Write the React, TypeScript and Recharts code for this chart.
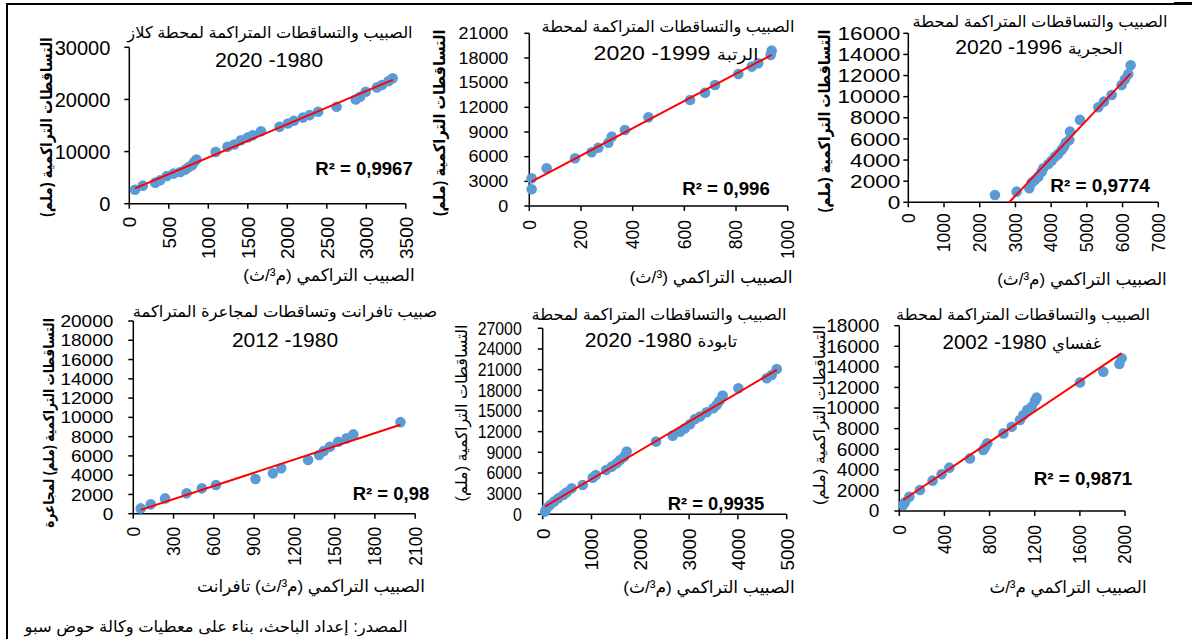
import { useLayoutEffect, useRef, useState } from 'react';
import type { ReactNode } from 'react';
import { ScatterChart, Scatter, XAxis, YAxis } from 'recharts';

// Cumulative discharge (m3/s) against cumulative rainfall (mm), one pair per station

// Kalaz 1980-2020
const kalazFlow = [72, 170, 327, 391, 476, 561, 646, 710, 753, 795, 816, 850, 1093, 1242, 1327, 1412, 1497, 1561, 1667, 1901, 2007, 2084, 2198, 2283, 2390, 2624, 2866, 2921, 2993, 3134, 3198, 3283, 3334];
const kalazRain = [2690, 3460, 4040, 4490, 5320, 5770, 6090, 6540, 7050, 7370, 7880, 8460, 9940, 10900, 11350, 12180, 12690, 13140, 13910, 14740, 15380, 15900, 16540, 16990, 17630, 18590, 20000, 20510, 21470, 22310, 22760, 23520, 24040];
const kalazXTicks = [0, 500, 1000, 1500, 2000, 2500, 3000, 3500];
const kalazYTicks = [0, 10000, 20000, 30000];

// Rutba 1999-2020
const rutbaFlow = [9, 9, 67, 177, 241, 267, 306, 319, 370, 461, 622, 680, 719, 809, 861, 886, 934, 938];
const rutbaRain = [2030, 3360, 4580, 5800, 6530, 7090, 7700, 8430, 9240, 10780, 12890, 13780, 14720, 16050, 16950, 17350, 18370, 18890];
const rutbaXTicks = [0, 200, 400, 600, 800, 1000];
const rutbaYTicks = [0, 3000, 6000, 9000, 12000, 15000, 18000, 21000];

// Hajria 1996-2020
const hajriaFlow = [2427, 3033, 3388, 3453, 3547, 3640, 3733, 3780, 3920, 4013, 4107, 4200, 4293, 4358, 4415, 4508, 4527, 4807, 5320, 5478, 5693, 5973, 6067, 6160, 6225];
const hajriaRain = [690, 1010, 1330, 1860, 2110, 2430, 2900, 3220, 3630, 3940, 4320, 4580, 4950, 5270, 5650, 5900, 6690, 7800, 9000, 9530, 10160, 11110, 11650, 12150, 12970];
const hajriaXTicks = [0, 1000, 2000, 3000, 4000, 5000, 6000, 7000];
const hajriaYTicks = [0, 2000, 4000, 6000, 8000, 10000, 12000, 14000, 16000];

// Tafrant discharge vs Mjaara rainfall 1980-2012
const tafrantFlow = [55, 130, 237, 397, 511, 616, 910, 1040, 1102, 1302, 1384, 1419, 1464, 1526, 1589, 1639, 1990];
const mjaaraRain = [550, 970, 1590, 2110, 2630, 2980, 3600, 4190, 4710, 5570, 6090, 6500, 6950, 7470, 7820, 8230, 9500];
const tafrantXTicks = [0, 300, 600, 900, 1200, 1500, 1800, 2100];
const tafrantYTicks = [0, 2000, 4000, 6000, 8000, 10000, 12000, 14000, 16000, 18000, 20000];

// Tabouda 1980-2020
const taboudaFlow = [48, 82, 150, 232, 321, 423, 492, 594, 820, 1025, 1090, 1298, 1414, 1516, 1585, 1667, 1721, 2322, 2664, 2814, 2916, 3019, 3121, 3224, 3360, 3497, 3565, 3620, 3688, 4009, 4590, 4692, 4795];
const taboudaRain = [390, 870, 1350, 1840, 2320, 2810, 3190, 3770, 4260, 5320, 5710, 6440, 6920, 7400, 7890, 8370, 9100, 10550, 11420, 12000, 12480, 13070, 13840, 14180, 14810, 15390, 15870, 16450, 17230, 18290, 19740, 20230, 21100];
const taboudaXTicks = [0, 1000, 2000, 3000, 4000, 5000];
const taboudaYTicks = [0, 3000, 6000, 9000, 12000, 15000, 18000, 21000, 24000, 27000];

// Ghafsai 1980-2002
const ghafsaiFlow = [35, 50, 89, 183, 295, 375, 443, 626, 744, 760, 780, 922, 996, 1069, 1099, 1134, 1173, 1202, 1217, 1601, 1808, 1950, 1970];
const ghafsaiRain = [580, 840, 1390, 2040, 2950, 3560, 4210, 5110, 5920, 6200, 6570, 7540, 8190, 8840, 9320, 9810, 10130, 10680, 11010, 12490, 13530, 14280, 14830];
const ghafsaiXTicks = [0, 400, 800, 1200, 1600, 2000];
const ghafsaiYTicks = [0, 2000, 4000, 6000, 8000, 10000, 12000, 14000, 16000, 18000];

const PAGE_W = 1192;
const PAGE_H = 639;
const NUM_FONT = '"Liberation Sans", Arial, sans-serif';
const TXT_FONT = '"Liberation Sans", "DejaVu Sans", sans-serif';
const axisStroke = { stroke: '#000', strokeWidth: 1.5 };

type Pt = { x: number; y: number };
type Frame = { x0: number; x1: number; y0: number; y1: number };
type TickFmt = { size: number; sx: number; gap: number };

// least-squares line over the points, clipped at y = 0 like the spreadsheet trendline
function trendOf(pts: Pt[]): Pt[] {
  const n = pts.length;
  const mx = pts.reduce((s, p) => s + p.x, 0) / n;
  const my = pts.reduce((s, p) => s + p.y, 0) / n;
  let sxy = 0;
  let sxx = 0;
  pts.forEach((p) => {
    sxy += (p.x - mx) * (p.y - my);
    sxx += (p.x - mx) * (p.x - mx);
  });
  const b = sxy / sxx;
  const a = my - b * mx;
  let xa = Math.min(...pts.map((p) => p.x));
  const xb = Math.max(...pts.map((p) => p.x));
  if (a + b * xa < 0) xa = -a / b;
  return [
    { x: xa, y: a + b * xa },
    { x: xb, y: a + b * xb },
  ];
}

const yTickOf = (f: TickFmt) => (props: any) => (
  <g transform={`translate(${props.x - (f.gap - 5)},${props.y}) scale(${f.sx},1)`}>
    <text textAnchor="end" dy="0.36em" fontSize={f.size} fontFamily={NUM_FONT} fill="#000">
      {props.payload.value}
    </text>
  </g>
);

const xTickOf = (f: TickFmt) => (props: any) => (
  <g transform={`translate(${props.x},${props.y + (f.gap - 5)}) rotate(-90) scale(${f.sx},1)`}>
    <text textAnchor="end" dy="0.36em" fontSize={f.size} fontFamily={NUM_FONT} fill="#000">
      {props.payload.value}
    </text>
  </g>
);

const dot = (p: any) => <circle cx={p.cx} cy={p.cy} r={5.3} fill="#5B9BD5" />;
const noDot = () => <g />;

interface PlotProps {
  flow: number[];
  rain: number[];
  xTicks: number[];
  yTicks: number[];
  frame: Frame;
  xFmt: TickFmt;
  yFmt: TickFmt;
}

// axes need a non-zero band, so 1px is taken from the margins for each
function StationPlot({ flow, rain, xTicks, yTicks, frame, xFmt, yFmt }: PlotProps) {
  const pts = flow.map((q, i) => ({ x: q, y: rain[i] }));
  const trend = trendOf(pts);
  return (
    <div style={{ position: 'absolute', left: 0, top: 0 }}>
      <ScatterChart
        width={PAGE_W}
        height={PAGE_H}
        margin={{ left: frame.x0 - 1, right: PAGE_W - frame.x1, top: frame.y0, bottom: PAGE_H - frame.y1 - 1 }}
      >
        <XAxis
          type="number"
          dataKey="x"
          domain={[0, xTicks[xTicks.length - 1]]}
          ticks={xTicks}
          interval={0}
          height={1}
          tickSize={5}
          tickMargin={0}
          axisLine={axisStroke}
          tickLine={axisStroke}
          tick={xTickOf(xFmt)}
        />
        <YAxis
          type="number"
          dataKey="y"
          domain={[0, yTicks[yTicks.length - 1]]}
          ticks={yTicks}
          interval={0}
          width={1}
          tickSize={5}
          tickMargin={0}
          axisLine={axisStroke}
          tickLine={axisStroke}
          tick={yTickOf(yFmt)}
        />
        <Scatter data={pts} shape={dot} isAnimationActive={false} />
        <Scatter
          data={trend}
          fill="#FF0000"
          line={{ stroke: '#FF0000', strokeWidth: 2 }}
          shape={noDot}
          isAnimationActive={false}
        />
      </ScatterChart>
    </div>
  );
}

interface TextProps {
  cx: number;
  cy: number;
  w: number;
  size: number;
  bold?: boolean;
  vertical?: boolean;
  ltr?: boolean;
  children: ReactNode;
}

// text centred on (cx, cy), squeezed or stretched horizontally to span w pixels
function FitText({ cx, cy, w, size, bold, vertical, ltr, children }: TextProps) {
  const ref = useRef<HTMLDivElement>(null);
  const [k, setK] = useState(1);
  useLayoutEffect(() => {
    if (ref.current && ref.current.offsetWidth > 0) setK(w / ref.current.offsetWidth);
  }, [w]);
  return (
    <div
      ref={ref}
      dir={ltr ? 'ltr' : 'rtl'}
      style={{
        position: 'absolute',
        left: cx,
        top: cy,
        width: 'max-content',
        transform: `translate(-50%, -50%)${vertical ? ' rotate(-90deg)' : ''} scaleX(${k})`,
        fontFamily: TXT_FONT,
        fontSize: size,
        fontWeight: bold ? 700 : 400,
        lineHeight: 1.1,
        whiteSpace: 'nowrap',
        color: '#000',
      }}
    >
      {children}
    </div>
  );
}

const small = { fontSize: 16 };

export default function App() {
  return (
    <div
      style={{
        position: 'fixed',
        left: 0,
        top: 0,
        width: PAGE_W,
        height: PAGE_H,
        background: '#fff',
        overflow: 'hidden',
      }}
    >
      <div style={{ position: 'absolute', left: 6, top: 3, width: 1168, height: 640, borderLeft: '2px solid #000', borderTop: '2px solid #000' }} />
      <div style={{ position: 'absolute', left: 1174, top: 2, width: 18, height: 3, background: '#000' }} />

      <StationPlot
        flow={kalazFlow}
        rain={kalazRain}
        xTicks={kalazXTicks}
        yTicks={kalazYTicks}
        frame={{ x0: 129.3, x1: 405.8, y0: 47.3, y1: 203.7 }}
        xFmt={{ size: 19, sx: 1, gap: 13 }}
        yFmt={{ size: 20, sx: 1, gap: 19 }}
      />
      <StationPlot
        flow={rutbaFlow}
        rain={rutbaRain}
        xTicks={rutbaXTicks}
        yTicks={rutbaYTicks}
        frame={{ x0: 529.3, x1: 787.7, y0: 33.3, y1: 206 }}
        xFmt={{ size: 17.5, sx: 1, gap: 14 }}
        yFmt={{ size: 16, sx: 1.12, gap: 21 }}
      />
      <StationPlot
        flow={hajriaFlow}
        rain={hajriaRain}
        xTicks={hajriaXTicks}
        yTicks={hajriaYTicks}
        frame={{ x0: 908.3, x1: 1158.3, y0: 33.3, y1: 202.3 }}
        xFmt={{ size: 17.5, sx: 1, gap: 11 }}
        yFmt={{ size: 18.5, sx: 1.22, gap: 8 }}
      />
      <StationPlot
        flow={tafrantFlow}
        rain={mjaaraRain}
        xTicks={tafrantXTicks}
        yTicks={tafrantYTicks}
        frame={{ x0: 133.3, x1: 415.2, y0: 321, y1: 513.7 }}
        xFmt={{ size: 17.5, sx: 1, gap: 13 }}
        yFmt={{ size: 17, sx: 1.12, gap: 20 }}
      />
      <StationPlot
        flow={taboudaFlow}
        rain={taboudaRain}
        xTicks={taboudaXTicks}
        yTicks={taboudaYTicks}
        frame={{ x0: 542.7, x1: 786.7, y0: 328.3, y1: 514.3 }}
        xFmt={{ size: 19, sx: 1, gap: 14 }}
        yFmt={{ size: 18, sx: 0.88, gap: 21 }}
      />
      <StationPlot
        flow={ghafsaiFlow}
        rain={ghafsaiRain}
        xTicks={ghafsaiXTicks}
        yTicks={ghafsaiYTicks}
        frame={{ x0: 899.3, x1: 1125, y0: 325.7, y1: 511 }}
        xFmt={{ size: 17.5, sx: 1, gap: 14 }}
        yFmt={{ size: 17.5, sx: 1.09, gap: 20 }}
      />

      {/* Kalaz */}
      <FitText cx={270} cy={33} w={285} size={16}>الصبيب والتساقطات المتراكمة لمحطة كلاز</FitText>
      <FitText cx={269} cy={60} w={108} size={20}>1980- 2020</FitText>
      <FitText cx={47} cy={127} w={180} size={16} bold vertical>التساقطات التراكمية (ملم)</FitText>
      <FitText cx={329} cy={276} w={172} size={17}>الصبيب التراكمي (م³/ث)</FitText>
      <FitText cx={364} cy={170} w={98} size={18} bold ltr>R² = 0,9967</FitText>

      {/* Rutba */}
      <FitText cx={668} cy={27} w={253} size={16}>الصبيب والتساقطات المتراكمة لمحطة</FitText>
      <FitText cx={676} cy={53} w={165} size={20}><span style={small}>الرتبة</span> 1999- 2020</FitText>
      <FitText cx={440} cy={123} w={187} size={16} bold vertical>التساقطات التراكمية (ملم)</FitText>
      <FitText cx={711} cy={278} w={163} size={17}>الصبيب التراكمي (³/ث)</FitText>
      <FitText cx={726} cy={190} w={88} size={18} bold ltr>R² = 0,996</FitText>

      {/* Hajria */}
      <FitText cx={1040} cy={22} w={255} size={16}>الصبيب والتساقطات المتراكمة لمحطة</FitText>
      <FitText cx={1039} cy={47} w={168} size={20}><span style={small}>الحجرية</span> 1996- 2020</FitText>
      <FitText cx={825} cy={121} w={183} size={16} bold vertical>التساقطات التراكمية (ملم)</FitText>
      <FitText cx={1082} cy={280} w={170} size={17}>الصبيب التراكمي (م³/ث)</FitText>
      <FitText cx={1100} cy={187} w={100} size={18} bold ltr>R² = 0,9774</FitText>

      {/* Tafrant / Mjaara */}
      <FitText cx={285} cy={312} w={304} size={16}>صبيب تافرانت وتساقطات لمجاعرة المتراكمة</FitText>
      <FitText cx={285} cy={340} w={106} size={20}>1980- 2012</FitText>
      <FitText cx={49} cy={423} w={210} size={15} bold vertical>التساقطات التراكمية (ملم) لمجاعرة</FitText>
      <FitText cx={311} cy={587} w={228} size={17}>الصبيب التراكمي (م³/ث) تافرانت</FitText>
      <FitText cx={391} cy={495} w={77} size={18} bold ltr>R² = 0,98</FitText>

      {/* Tabouda */}
      <FitText cx={659} cy={315} w={255} size={16}>الصبيب والتساقطات المتراكمة لمحطة</FitText>
      <FitText cx={661} cy={340} w={152} size={20}><span style={small}>تابودة</span> 1980- 2020</FitText>
      <FitText cx={462} cy={413} w={177} size={16} vertical>التساقطات التراكمية (ملم)</FitText>
      <FitText cx={709} cy={588} w={172} size={17}>الصبيب التراكمي (م³/ث)</FitText>
      <FitText cx={716} cy={505} w={97} size={18} bold ltr>R² = 0,9935</FitText>

      {/* Ghafsai */}
      <FitText cx={1023} cy={315} w={254} size={16}>الصبيب والتساقطات المتراكمة لمحطة</FitText>
      <FitText cx={1022} cy={342} w={159} size={20}><span style={small}>غفساي</span> 1980- 2002</FitText>
      <FitText cx={820} cy={415} w={180} size={16} vertical>التساقطات التراكمية (ملم)</FitText>
      <FitText cx={1068} cy={588} w={157} size={17}>الصبيب التراكمي م³/ث</FitText>
      <FitText cx={1083} cy={480} w={99} size={18} bold ltr>R² = 0,9871</FitText>

      <FitText cx={216} cy={627} w={383} size={16}>المصدر: إعداد الباحث، بناء على معطيات وكالة حوض سبو</FitText>
    </div>
  );
}
